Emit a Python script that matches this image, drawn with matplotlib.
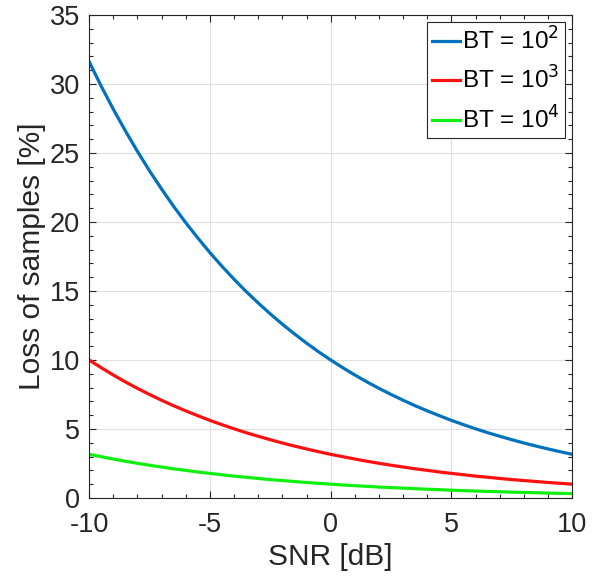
import matplotlib
matplotlib.use("Agg")
import matplotlib.pyplot as plt
from matplotlib.ticker import MultipleLocator

plt.rcParams['font.family'] = ['Liberation Sans', 'DejaVu Sans']
plt.rcParams['axes.unicode_minus'] = False

snr_db = [-10, -9.5, -9, -8.5, -8, -7.5, -7, -6.5, -6, -5.5, -5, -4.5, -4, -3.5,
          -3, -2.5, -2, -1.5, -1, -0.5, 0, 0.5, 1, 1.5, 2, 2.5, 3, 3.5, 4, 4.5,
          5, 5.5, 6, 6.5, 7, 7.5, 8, 8.5, 9, 9.5, 10]
loss_bt1e2 = [31.62, 29.85, 28.18, 26.61, 25.12, 23.71, 22.39, 21.13, 19.95,
              18.84, 17.78, 16.79, 15.85, 14.96, 14.13, 13.34, 12.59, 11.89,
              11.22, 10.59, 10.00, 9.44, 8.91, 8.41, 7.94, 7.50, 7.08, 6.68,
              6.31, 5.96, 5.62, 5.31, 5.01, 4.73, 4.47, 4.22, 3.98, 3.76, 3.55,
              3.35, 3.16]
loss_bt1e3 = [10.0, 9.44, 8.91, 8.41, 7.94, 7.50, 7.08, 6.68, 6.31, 5.96, 5.62,
              5.31, 5.01, 4.73, 4.47, 4.22, 3.98, 3.76, 3.55, 3.35, 3.16, 2.99,
              2.82, 2.66, 2.51, 2.37, 2.24, 2.11, 2.00, 1.88, 1.78, 1.68, 1.58,
              1.50, 1.41, 1.33, 1.26, 1.19, 1.12, 1.06, 1.00]
loss_bt1e4 = [3.16, 2.99, 2.82, 2.66, 2.51, 2.37, 2.24, 2.11, 2.00, 1.88, 1.78,
              1.68, 1.58, 1.50, 1.41, 1.33, 1.26, 1.19, 1.12, 1.06, 1.00, 0.94,
              0.89, 0.84, 0.79, 0.75, 0.71, 0.67, 0.63, 0.60, 0.56, 0.53, 0.50,
              0.47, 0.45, 0.42, 0.40, 0.38, 0.35, 0.33, 0.32]
labels = [r'BT = 10$^2$', r'BT = 10$^3$', r'BT = 10$^4$']
colors = ['#0072BD', '#FF1010', '#10F010']

fig = plt.figure(figsize=(5.98, 5.79), dpi=100)
ax = fig.add_axes([0.149, 0.140, 0.808, 0.834])

for y, lab, c in zip([loss_bt1e2, loss_bt1e3, loss_bt1e4], labels, colors):
    ax.plot(snr_db, y, color=c, lw=2.3, label=lab)

ax.set_xlim(-10, 10)
ax.set_ylim(0, 35)
ax.xaxis.set_major_locator(MultipleLocator(5))
ax.xaxis.set_minor_locator(MultipleLocator(1))
ax.yaxis.set_major_locator(MultipleLocator(5))
ax.yaxis.set_minor_locator(MultipleLocator(1))
ax.grid(True, which='major', color='#e0e0e0', lw=0.8)
ax.set_axisbelow(True)
ax.tick_params(which='both', direction='in', top=True, right=True,
               colors='#262626', labelsize=19.5, width=0.8)
ax.tick_params(which='major', length=5)
ax.tick_params(which='minor', length=3)
for lab in ax.get_xticklabels() + ax.get_yticklabels():
    lab.set_color('#262626')
ax.tick_params(axis='x', pad=10)
ax.tick_params(axis='y', pad=6.5)
for s in ax.spines.values():
    s.set_color('#262626')
    s.set_linewidth(0.8)

ax.set_xlabel('SNR [dB]', fontsize=21.5, color='#262626', labelpad=4)
ax.set_ylabel('Loss of samples [%]', fontsize=21.5, color='#262626', labelpad=3)

leg = ax.legend(loc='upper right', fontsize=17.5, frameon=True, fancybox=False,
                edgecolor='#262626', framealpha=1, handlelength=1.15,
                handletextpad=0.1, borderpad=0.2, labelspacing=0.5,
                borderaxespad=0.3)
leg.get_frame().set_linewidth(0.8)

fig.savefig('out.png', dpi=100)
